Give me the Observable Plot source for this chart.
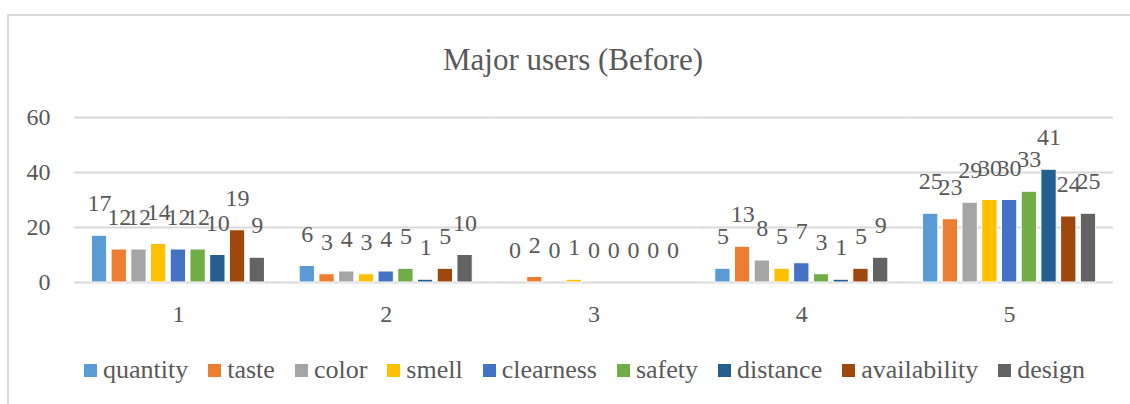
<!DOCTYPE html>
<html>
<head>
<meta charset="utf-8">
<script src="https://cdn.jsdelivr.net/npm/d3@7"></script>
<script src="https://cdn.jsdelivr.net/npm/@observablehq/plot@0.6"></script>
<style>
  html, body { margin: 0; padding: 0; background: #fff; }
  body { width: 1130px; height: 404px; position: relative; overflow: hidden; font-family: "Liberation Serif", "DejaVu Serif", serif; color: #595959; }
  #frame { position: absolute; left: 7px; top: 14px; width: 1140px; height: 420px; border: 2px solid #d9d9d9; box-sizing: border-box; }
  #title { position: absolute; left: 0; width: 1146px; top: 42px; text-align: center; font-size: 31px; line-height: 36px; color: #595959; }
  #chart { position: absolute; left: 0; top: 90px; }
  #legend { position: absolute; left: 84px; top: 355px; display: flex; align-items: center; font-size: 26px; line-height: 30px; color: #595959; }
  .item { display: flex; align-items: center; margin-right: 20px; }
  .sw { width: 13px; height: 13px; margin-right: 6px; }
</style>
</head>
<body>
<div id="frame"></div>
<div id="title">Major users (Before)</div>
<div id="chart"></div>
<div id="legend"></div>
<script>
const categories = ["1", "2", "3", "4", "5"];
const series = ["quantity", "taste", "color", "smell", "clearness", "safety", "distance", "availability", "design"];
const colors = ["#5B9BD5", "#ED7D31", "#A5A5A5", "#FFC000", "#4472C4", "#70AD47", "#255E91", "#9E480E", "#636363"];
const quantity = [17, 6, 0, 5, 25];
const taste = [12, 3, 2, 13, 23];
const color = [12, 4, 0, 8, 29];
const smell = [14, 3, 1, 5, 30];
const clearness = [12, 4, 0, 7, 30];
const safety = [12, 5, 0, 3, 33];
const distance = [10, 1, 0, 1, 41];
const availability = [19, 5, 0, 5, 24];
const design = [9, 10, 0, 9, 25];
const yTicks = [0, 20, 40, 60];

const valuesBySeries = {quantity, taste, color, smell, clearness, safety, distance, availability, design};
const data = [];
categories.forEach((c, i) => {
  series.forEach(s => data.push({cat: c, series: s, value: valuesBySeries[s][i]}));
});

const FONT = '"Liberation Serif", "DejaVu Serif", serif';

const chart = Plot.plot({
  width: 1130,
  height: 250,
  marginLeft: 74,
  marginRight: 17,
  marginTop: 27,
  marginBottom: 58,
  style: {fontFamily: FONT, fontSize: "24px", color: "#595959", background: "transparent", overflow: "visible"},
  fx: {domain: categories, padding: 0, round: false, label: null},
  x: {domain: series, paddingInner: 0.224, paddingOuter: 0.88, round: false, axis: null},
  y: {domain: [0, 60], axis: null},
  color: {domain: series, range: colors},
  marks: [
    Plot.gridY(yTicks, {stroke: "#d9d9d9", strokeOpacity: 1, strokeWidth: 2}),
    Plot.barY(data, {fx: "cat", x: "series", y: "value", fill: "series", stroke: "white", strokeWidth: 1}),
    Plot.text(data, {fx: "cat", x: "series", y: "value", text: d => String(d.value), dy: -32, fontSize: 24, fill: "#595959"}),
    Plot.axisY(yTicks, {tickSize: 0, tickPadding: 24, label: null, fontSize: 24, fill: "#595959"}),
    Plot.axisFx({anchor: "bottom", tickSize: 0, tickPadding: 22, label: null, fontSize: 24, fill: "#595959"})
  ]
});
document.getElementById("chart").appendChild(chart);

const legend = document.getElementById("legend");
series.forEach((s, i) => {
  const item = document.createElement("div");
  item.className = "item";
  const sw = document.createElement("div");
  sw.className = "sw";
  sw.style.background = colors[i];
  const label = document.createElement("span");
  label.textContent = s;
  item.appendChild(sw);
  item.appendChild(label);
  legend.appendChild(item);
});
</script>
</body>
</html>
